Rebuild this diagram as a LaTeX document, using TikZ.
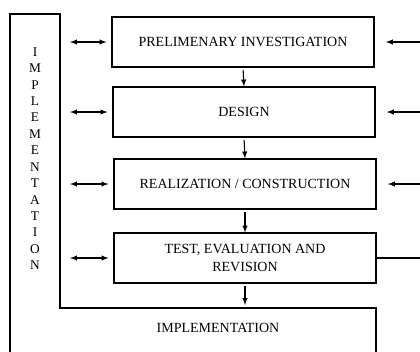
\documentclass[tikz,border=0pt]{standalone}
\usepackage{fontspec}
\setmainfont{Liberation Serif}
\begin{document}
\begin{tikzpicture}[x=0.75pt,y=-0.75pt,line width=0.8pt,
    stage/.style={draw, minimum width=196.5pt, minimum height=37.5pt, align=center,
      font=\fontsize{10.5}{13.5}\selectfont},
    letter/.style={inner sep=0pt, font=\fontsize{10}{12}\selectfont}]
    \useasboundingbox (0,0) rectangle (420,351);
    \clip (0,0) rectangle (420,351);

    % Colonna di sinistra e riquadro finale
    \draw (10,360) -- (10,14) -- (60,14) -- (60,308) -- (376,308) -- (376,360);
    \foreach \l [count=\i from 0] in {I,M,P,L,E,M,E,N,T,A,T,I,O,N}
        \node[letter] (v\i) at (35,{52+16.4*\i}) {\l};
    \node[font=\fontsize{10.5}{12}\selectfont] (impl) at (218,328) {IMPLEMENTATION};

    % Fasi
    \node[stage] (prel) at (243,42) {PRELIMENARY INVESTIGATION};
    \node[stage] (design) at (244,112) {DESIGN};
    \node[stage] (real) at (245,184) {REALIZATION / CONSTRUCTION};
    \node[stage] (test) at (245,258) {TEST, EVALUATION AND\\REVISION};

    % Frecce verso il basso
    \coordinate (b4) at (245,305);
    \draw[-latex, shorten <=2pt] (prel.south) -- (design.north);
    \draw[-latex, shorten <=2pt] (design.south) -- (real.north);
    \draw[-latex, shorten <=2pt] (real.south) -- (test.north);
    \draw[-latex, shorten <=2pt] (test.south) -- (b4);

    % Frecce doppie a sinistra
    \coordinate (l1) at (70,42);
    \coordinate (l2) at (70,112);
    \coordinate (l3) at (70,184);
    \coordinate (l4) at (70,258);
    \draw[latex-latex, shorten >=3.75pt] (l1) -- (prel.west);
    \draw[latex-latex, shorten >=3.75pt] (l2) -- (design.west);
    \draw[latex-latex, shorten >=3.75pt] (l3) -- (real.west);
    \draw[latex-latex, shorten >=3.75pt] (l4) -- (test.west);

    % Ritorni da destra
    \coordinate (r1) at (421,42);
    \coordinate (r2) at (421,112);
    \coordinate (r3) at (421,184);
    \coordinate (r4) at (421,258);
    \draw[-latex, shorten >=8.5pt] (r1) -- (prel.east);
    \draw[-latex, shorten >=8.5pt] (r2) -- (design.east);
    \draw[-latex, shorten >=8.5pt] (r3) -- (real.east);
    \draw (test.east) -- (r4);
\end{tikzpicture}
\end{document}
